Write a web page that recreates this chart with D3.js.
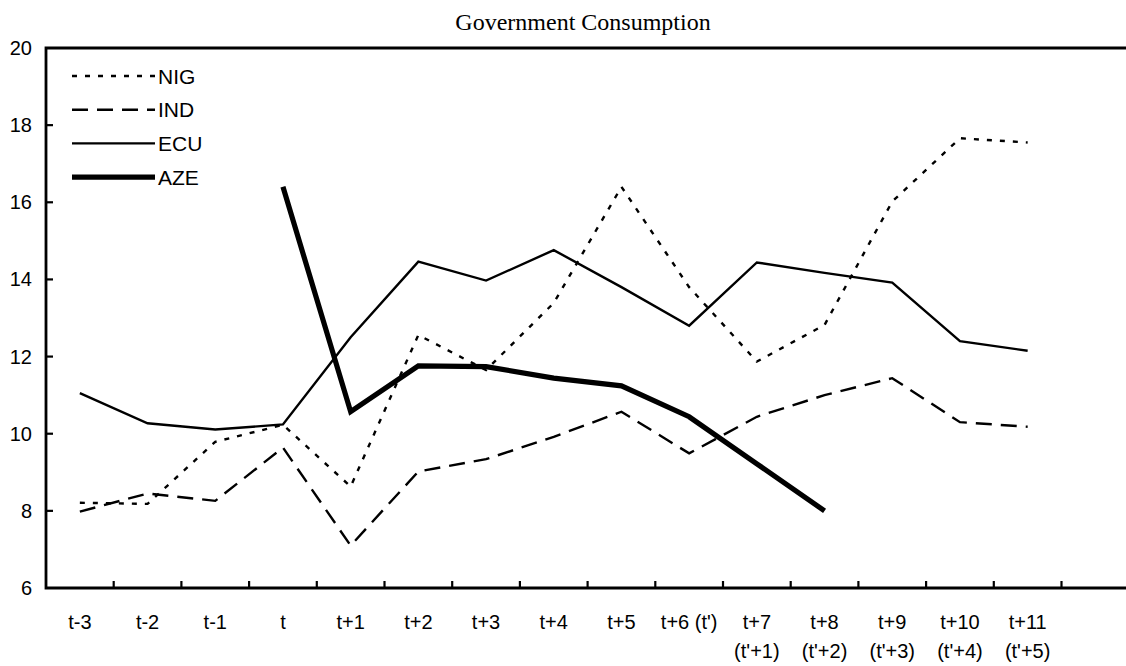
<!DOCTYPE html>
<html>
<head>
<meta charset="utf-8">
<script src="https://cdn.jsdelivr.net/npm/d3@7"></script>
<style>
  body { margin: 0; background: #fff; }
  text { font-family: 'Liberation Sans', Arial, sans-serif; fill: #000; }
  .title { font-family: 'Liberation Serif', 'Times New Roman', serif; }
</style>
</head>
<body>
<svg width="1126" height="666"></svg>
<script>
const categories = ['t-3', 't-2', 't-1', 't', 't+1', 't+2', 't+3', 't+4', 't+5', "t+6 (t')",
    't+7', 't+8', 't+9', 't+10', 't+11'];
const subLabels = ['', '', '', '', '', '', '', '', '', '',
    "(t'+1)", "(t'+2)", "(t'+3)", "(t'+4)", "(t'+5)"];

const nig = [8.21, 8.18, 9.79, 10.23, 8.63, 12.56, 11.65, 13.39, 16.4, 13.8, 11.87, 12.82, 16.02, 17.66, 17.55];
const ind = [7.98, 8.45, 8.26, 9.64, 7.1, 9.02, 9.34, 9.92, 10.57, 9.49, 10.44, 11.0, 11.44, 10.3, 10.18];
const ecu = [11.05, 10.27, 10.11, 10.24, 12.5, 14.46, 13.97, 14.76, 13.8, 12.8, 14.44, 14.17, 13.92, 12.4, 12.15];
const aze = [null, null, null, 16.4, 10.57, 11.76, 11.74, 11.44, 11.24, 10.44, 9.22, 8.0, null, null, null];

const yTicks = [6, 8, 10, 12, 14, 16, 18, 20];

const series = [
    { name: 'NIG', values: nig, width: 2.4, dash: '5,8' },
    { name: 'IND', values: ind, width: 2.4, dash: '16,9' },
    { name: 'ECU', values: ecu, width: 2.4, dash: null },
    { name: 'AZE', values: aze, width: 5.2, dash: null }
];

const svg = d3.select('svg'),
    width = +svg.attr('width'),
    plotLeft = 46, plotTop = 48, plotBottom = 588;

// one empty band after t+11
const x = d3.scaleBand()
    .domain(categories.concat(['']))
    .range([plotLeft, plotLeft + 16 * 67.7])
    .padding(0);

const y = d3.scaleLinear().domain([6, 20]).range([plotBottom, plotTop]);

// title
svg.append('text')
    .attr('class', 'title')
    .attr('x', 583)
    .attr('y', 30)
    .attr('text-anchor', 'middle')
    .style('font-size', '24px')
    .text('Government Consumption');

// frame
svg.append('path')
    .attr('d', `M${width},${plotTop}H${plotLeft}V${plotBottom}H${width}`)
    .attr('fill', 'none')
    .attr('stroke', '#000')
    .attr('stroke-width', 2.8);

// y ticks
const yTick = svg.append('g')
    .selectAll('g')
    .data(yTicks)
    .enter().append('g')
    .attr('transform', d => 'translate(0,' + y(d) + ')');

yTick.filter(d => d > 6 && d < 20).append('line')
    .attr('x1', plotLeft)
    .attr('x2', plotLeft + 7)
    .attr('stroke', '#000')
    .attr('stroke-width', 2.2);

yTick.append('text')
    .attr('x', 32)
    .attr('dy', '0.35em')
    .attr('text-anchor', 'end')
    .style('font-size', '20px')
    .text(d => d);

// x ticks at band edges
svg.append('g')
    .selectAll('line')
    .data(x.domain().slice(1))
    .enter().append('line')
    .attr('x1', d => x(d))
    .attr('x2', d => x(d))
    .attr('y1', plotBottom)
    .attr('y2', plotBottom - 7)
    .attr('stroke', '#000')
    .attr('stroke-width', 2.2);

const xLabel = svg.append('g')
    .selectAll('text')
    .data(categories)
    .enter().append('text')
    .attr('x', d => x(d) + x.bandwidth() / 2)
    .attr('y', 629)
    .attr('text-anchor', 'middle')
    .style('font-size', '20px');

xLabel.append('tspan').text(d => d);
xLabel.append('tspan')
    .attr('x', d => x(d) + x.bandwidth() / 2)
    .attr('dy', 29)
    .text((d, i) => subLabels[i]);

// lines
const line = d3.line()
    .defined(d => d.v != null)
    .x(d => x(d.c) + x.bandwidth() / 2)
    .y(d => y(d.v));

svg.append('g')
    .selectAll('path')
    .data(series)
    .enter().append('path')
    .attr('d', s => line(s.values.map((v, i) => ({ c: categories[i], v: v }))))
    .attr('fill', 'none')
    .attr('stroke', '#000')
    .attr('stroke-width', s => s.width)
    .attr('stroke-dasharray', s => s.dash)
    .attr('stroke-linejoin', 'miter');

// legend
const legend = svg.append('g')
    .selectAll('g')
    .data(series)
    .enter().append('g')
    .attr('transform', (d, i) => 'translate(72,' + (76 + i * 33.7) + ')');

legend.append('line')
    .attr('x1', 0)
    .attr('x2', 83)
    .attr('stroke', '#000')
    .attr('stroke-width', d => d.width)
    .attr('stroke-dasharray', d => d.dash);

legend.append('text')
    .attr('x', 86)
    .attr('dy', '0.36em')
    .style('font-size', '21px')
    .text(d => d.name);
</script>
</body>
</html>
